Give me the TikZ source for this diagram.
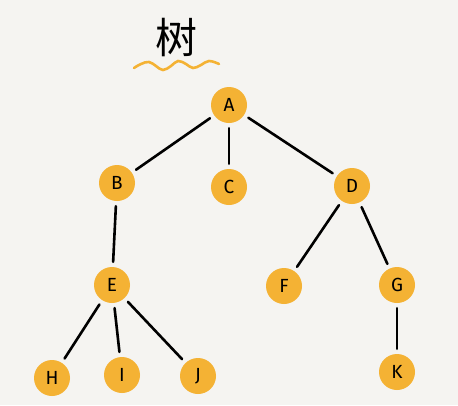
\documentclass[tikz,border=0pt]{standalone}
\usepackage{fontspec}
\newfontfamily\cjk{Noto Sans CJK SC}
\setsansfont{Fira Sans}
\begin{document}
\begin{tikzpicture}[x=1pt,y=-1pt,
  tnode/.style={circle,fill=treeorange,minimum size=36pt,inner sep=0pt,font=\sffamily\fontsize{19}{19}\selectfont},
  tedge/.style={line width=2.6pt,black,line cap=round,shorten <=5pt,shorten >=5pt}]
\definecolor{treeorange}{HTML}{F4B234}
\definecolor{bgcol}{HTML}{F5F4F1}
\fill[bgcol] (0,0) rectangle (458,405);
\useasboundingbox (0,0) rectangle (458,405);
\node[font=\cjk\fontsize{42}{42}\selectfont] (title) at (176,38) {树};
\draw[treeorange,line width=2.6pt,line cap=round] plot[smooth,tension=0.7] coordinates {(134,68) (141,64) (149,62) (156,66) (163,70) (171,66) (178,61) (186,64) (193,68) (201,65) (209,61) (219,64)};
\node[tnode] (A) at (229,105) {A};
\node[tnode] (B) at (117,183) {B};
\node[tnode] (C) at (229,187) {C};
\node[tnode] (D) at (352,186) {D};
\node[tnode] (E) at (112,285) {E};
\node[tnode] (F) at (284,286) {F};
\node[tnode] (G) at (397,285) {G};
\node[tnode] (H) at (52,378) {H};
\node[tnode] (I) at (122,375) {I};
\node[tnode] (J) at (198,376) {J};
\node[tnode] (K) at (397,372) {K};
\draw[tedge] (A) -- (B);
\draw[tedge] (A) -- (C);
\draw[tedge] (A) -- (D);
\draw[tedge] (B) -- (E);
\draw[tedge] (D) -- (F);
\draw[tedge] (D) -- (G);
\draw[tedge] (E) -- (H);
\draw[tedge] (E) -- (I);
\draw[tedge] (E) -- (J);
\draw[tedge] (G) -- (K);
\end{tikzpicture}
\end{document}
